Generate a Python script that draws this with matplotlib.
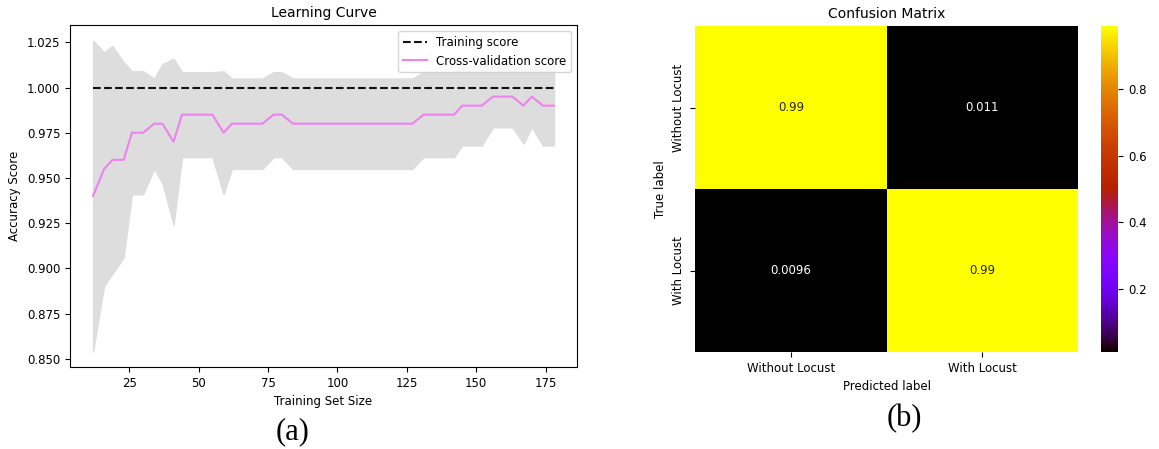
import matplotlib
matplotlib.use("Agg")
import matplotlib.pyplot as plt
import numpy as np
import seaborn as sns

plt.rcParams['font.size'] = 8.5
plt.rcParams['axes.titlesize'] = 10

# learning curve data
train_sizes = [12, 16, 19, 23, 26, 30, 34, 37, 41, 44,
               48, 52, 55, 59, 62, 66, 70, 73, 77, 80,
               84, 88, 91, 95, 98, 102, 106, 109, 113, 116,
               120, 124, 127, 131, 134, 138, 142, 145, 149, 152,
               156, 160, 163, 167, 170, 174, 178]
train_mean = [1.0, 1.0, 1.0, 1.0, 1.0, 1.0, 1.0, 1.0, 1.0, 1.0,
              1.0, 1.0, 1.0, 1.0, 1.0, 1.0, 1.0, 1.0, 1.0, 1.0,
              1.0, 1.0, 1.0, 1.0, 1.0, 1.0, 1.0, 1.0, 1.0, 1.0,
              1.0, 1.0, 1.0, 1.0, 1.0, 1.0, 1.0, 1.0, 1.0, 1.0,
              1.0, 1.0, 1.0, 1.0, 1.0, 1.0, 1.0]
test_mean = [0.940, 0.955, 0.960, 0.960, 0.975, 0.975, 0.980, 0.980, 0.970, 0.985,
             0.985, 0.985, 0.985, 0.975, 0.980, 0.980, 0.980, 0.980, 0.985, 0.985,
             0.980, 0.980, 0.980, 0.980, 0.980, 0.980, 0.980, 0.980, 0.980, 0.980,
             0.980, 0.980, 0.980, 0.985, 0.985, 0.985, 0.985, 0.990, 0.990, 0.990,
             0.995, 0.995, 0.995, 0.990, 0.995, 0.990, 0.990]
test_std = [0.086, 0.0645, 0.063, 0.054, 0.034, 0.034, 0.025, 0.033, 0.046, 0.0235,
            0.0235, 0.0235, 0.0235, 0.034, 0.025, 0.025, 0.025, 0.025, 0.0235, 0.0235,
            0.025, 0.025, 0.025, 0.025, 0.025, 0.025, 0.025, 0.025, 0.025, 0.025,
            0.025, 0.025, 0.025, 0.0235, 0.0235, 0.0235, 0.0235, 0.022, 0.022, 0.022,
            0.017, 0.017, 0.017, 0.021, 0.017, 0.022, 0.022]

xticks = [25, 50, 75, 100, 125, 150, 175]
yticks = [0.850, 0.875, 0.900, 0.925, 0.950, 0.975, 1.000, 1.025]

# confusion matrix data
class_names = ["Without Locust", "With Locust"]
cm_values = [[0.989, 0.011],
             [0.0096, 0.9904]]

fig = plt.figure(figsize=(11.59, 4.49), dpi=100)

# (a) learning curve
ax1 = fig.add_axes([0.0604, 0.1826, 0.4375, 0.7617])
sizes = np.array(train_sizes)
tr_m = np.array(train_mean)
te_m = np.array(test_mean)
te_s = np.array(test_std)
ax1.plot(sizes, tr_m, '--', color="#111111", label="Training score")
ax1.plot(sizes, te_m, color="violet", label="Cross-validation score")
ax1.fill_between(sizes, te_m - te_s, te_m + te_s, color="#DDDDDD")
ax1.set_xticks(xticks)
ax1.set_yticks(yticks)
ax1.set_yticklabels(["%.3f" % v for v in yticks])
ax1.set_title("Learning Curve")
ax1.set_xlabel("Training Set Size")
ax1.set_ylabel("Accuracy Score")
ax1.legend(loc="upper right")

# (b) confusion matrix
ax2 = fig.add_axes([0.5997, 0.2160, 0.3305, 0.7261])
cax = fig.add_axes([0.9500, 0.2160, 0.0147, 0.7261])
sns.heatmap(np.array(cm_values), annot=True, cmap="gnuplot", ax=ax2, cbar_ax=cax,
            xticklabels=class_names, yticklabels=class_names,
            annot_kws={"size": 8.5})
ax2.set_yticklabels(class_names, rotation=90, va="center")
ax2.set_title("Confusion Matrix")
ax2.set_xlabel("Predicted label")
ax2.set_ylabel("True label")
cax.set_yticks([0.2, 0.4, 0.6, 0.8])
cax.tick_params(labelsize=8.5)

fig.text(0.2528, 0.0379, "(a)", ha="center", va="center",
         family="Liberation Serif", fontsize=22)
fig.text(0.780, 0.0668, "(b)", ha="center", va="center",
         family="Liberation Serif", fontsize=22)

fig.savefig("out.png", dpi=100)
